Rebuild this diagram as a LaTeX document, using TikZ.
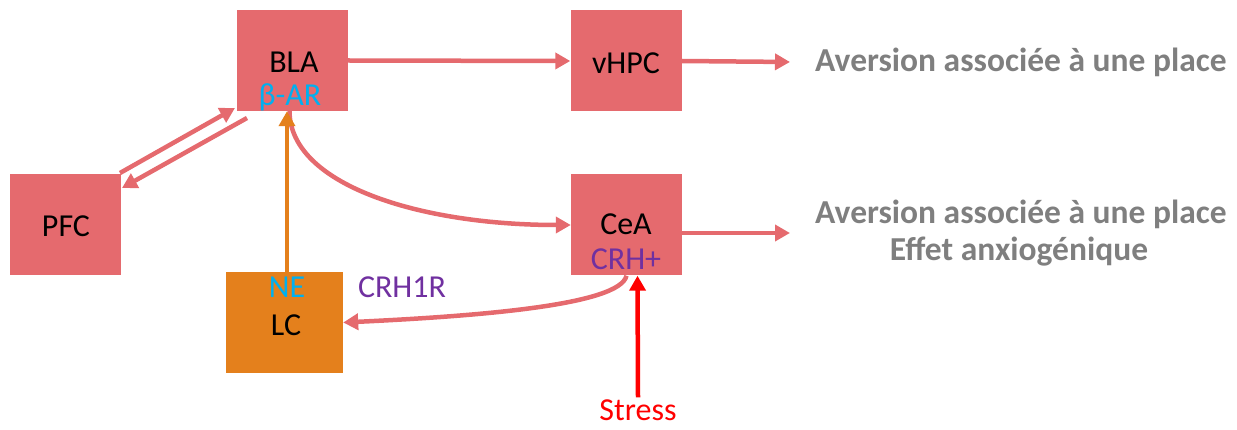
\documentclass[tikz,border=0pt]{standalone}
\usepackage{fontspec}
\setmainfont{Carlito}
\usetikzlibrary{arrows.meta}
\definecolor{boxred}{RGB}{229,106,110}
\definecolor{lcorange}{RGB}{228,128,28}
\definecolor{neblue}{RGB}{0,176,240}
\definecolor{crhpurple}{RGB}{112,48,160}
\definecolor{graytxt}{RGB}{127,127,127}
\tikzset{
  region/.style={fill=boxred, draw=none, minimum width=111pt, minimum height=101pt, inner sep=0},
  lbl/.style={font=\fontsize{32}{36}\selectfont, inner sep=0},
  outtxt/.style={font=\fontsize{33.5}{38}\selectfont\bfseries, text=graytxt, inner sep=0},
  tip/.style={-{Triangle[length=15pt,width=16pt]}},
  conn/.style={draw=boxred, line width=4.5pt, tip},
}
\begin{document}
\begin{tikzpicture}[x=1pt,y=-1pt]
\useasboundingbox (0,0) rectangle (1237,430);
\node[region] (BLA) at (292.5,60.5) {};
\node[region] (vHPC) at (626,61) {};
\node[region] (PFC) at (65,225) {};
\node[region] (CeA) at (626.5,225) {};
\node[region, fill=lcorange, minimum width=117pt] (LC) at (284.5,322.5) {};
\node[lbl] (tBLA) at (294,62) {BLA};
\node[lbl, text=neblue] (tbeta) at (290,97) {β-AR};
\node[lbl] (tvHPC) at (626,63) {vHPC};
\node[lbl] (tPFC) at (66,226) {PFC};
\node[lbl] (tCeA) at (626,224) {CeA};
\node[lbl, text=crhpurple] (tCRH) at (626,259) {CRH+};
\node[lbl, text=neblue] (tNE) at (287,287) {NE};
\node[lbl] (tLC) at (286,325) {LC};
\node[lbl, text=crhpurple] (tCRH1R) at (402,287) {CRH1R};
\node[lbl, text=red] (Stress) at (638,410) {Stress};
\node[outtxt, anchor=west] (out1) at (815,62) {Aversion associée à une place};
\node[outtxt, anchor=west] (out2) at (815,214) {Aversion associée à une place};
\node[outtxt] (out3) at (1019,252) {Effet anxiogénique};
\coordinate (e1) at (790,62);
\coordinate (e2) at (790,233);
% connectors
\draw[conn] (BLA.east) -- (vHPC.west);
\draw[conn] (vHPC.east) -- (e1);
\draw[conn] ([yshift=-8pt]CeA.east) -- (e2);
\draw[conn] ([xshift=55pt,yshift=52pt]PFC.center) -- ([xshift=-57.5pt,yshift=-47.5pt]BLA.center);
\draw[conn] ([xshift=-45.5pt,yshift=-57.5pt]BLA.center) -- ([xshift=57pt,yshift=37pt]PFC.center);
\draw[conn] ([xshift=-3pt]BLA.south) .. controls (290,185) and (420,225) .. (CeA.west);
\draw[conn] ([xshift=0pt]CeA.south) .. controls (620,305) and (480,316) .. ([yshift=0pt]LC.east);
\draw[draw=lcorange, line width=4.5pt, tip] ([xshift=2.5pt]LC.north) -- ([xshift=-5.5pt]BLA.south);
\draw[draw=red, line width=4.5pt, tip] ([yshift=2pt]Stress.north) -- ([xshift=11pt]CeA.south);
\end{tikzpicture}
\end{document}
